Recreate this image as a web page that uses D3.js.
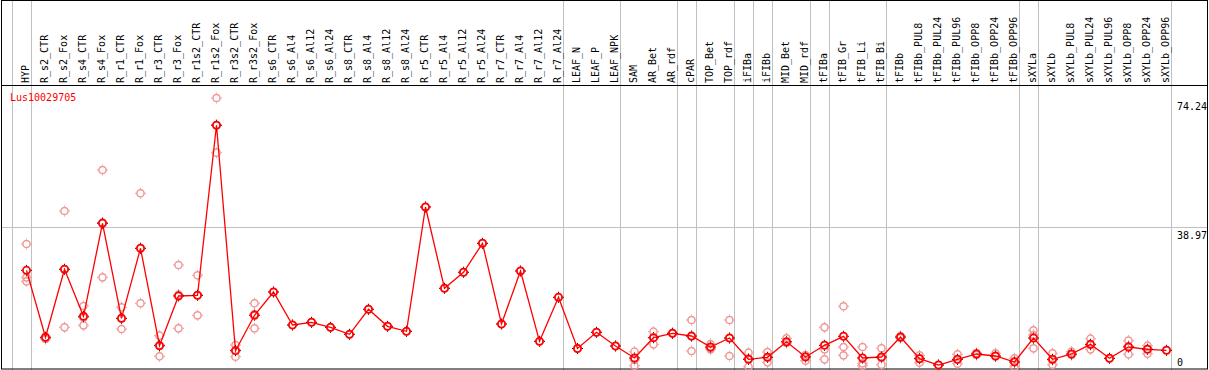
<!DOCTYPE html>
<html>
<head>
    <title>Lus10029705 expression</title>
    <script src="https://d3js.org/d3.v7.min.js"></script>
    <style>
        body { margin: 0; background: #fff; }
        text { font-family: 'DejaVu Sans Mono', monospace; font-size: 10px; }
    </style>
</head>
<body>
    <svg id="chart" width="1209" height="370"></svg>

    <script>
        var geneName = "Lus10029705";

        var categories = ["HYP","R_s2_CTR","R_s2_Fox","R_s4_CTR","R_s4_Fox","R_r1_CTR","R_r1_Fox",
            "R_r3_CTR","R_r3_Fox","R_r1s2_CTR","R_r1s2_Fox","R_r3s2_CTR","R_r3s2_Fox","R_s6_CTR",
            "R_s6_Al4","R_s6_Al12","R_s6_Al24","R_s8_CTR","R_s8_Al4","R_s8_Al12","R_s8_Al24",
            "R_r5_CTR","R_r5_Al4","R_r5_Al12","R_r5_Al24","R_r7_CTR","R_r7_Al4","R_r7_Al12","R_r7_Al24",
            "LEAF_N","LEAF_P","LEAF_NPK","SAM","AR_Bet","AR_rdf","cPAR","TOP_Bet","TOP_rdf",
            "iFIBa","iFIBb","MID_Bet","MID_rdf","tFIBa","tFIB_Gr","tFIB_Li","tFIB_Bi",
            "tFIBb","tFIBb_PUL8","tFIBb_PUL24","tFIBb_PUL96","tFIBb_OPP8","tFIBb_OPP24","tFIBb_OPP96",
            "sXYLa","sXYLb","sXYLb_PUL8","sXYLb_PUL24","sXYLb_PUL96","sXYLb_OPP8","sXYLb_OPP24","sXYLb_OPP96"];

        // mean per sample (red line)
        var meanValues = [27.21,8.93,27.49,14.66,40.04,14.11,33.22,
            6.63,20.20,20.39,66.79,5.27,14.93,21.29,
            12.28,13.02,11.65,9.74,16.57,11.93,10.56,
            44.49,22.30,26.67,34.58,12.56,27.02,7.83,19.84,
            5.87,10.29,6.55,3.28,8.82,10.02,9.28,6.28,8.73,
            2.92,3.47,7.72,3.55,6.74,9.20,3.28,3.55,
            9.01,3.08,1.36,2.92,4.37,3.82,2.18,
            8.73,2.92,4.37,7.01,3.19,6.28,5.65,5.38];

        // individual replicates (pink circles)
        var replicateValues = [
            [34.39,25.30,24.21],[8.93,8.65,8.46],[43.40,27.49,11.65],[17.47,14.30,12.20],
            [54.59,40.23,25.30],[17.11,14.00,11.19],[48.23,33.22,18.21],
            [9.36,6.82,3.74],[28.66,20.55,11.38],[25.85,20.39,14.93],[74.24,66.87,59.31],
            [6.82,5.46,3.63],[18.21,15.28,11.38],[21.29],
            [12.28],[13.02],[11.65],[9.74],[16.57],[11.93],[10.56],
            [44.49],[22.30],[26.67],[34.58],[12.56],[27.02],[7.83],[19.84],
            [5.87],[10.29],[6.55],[4.99,2.73,1.17],[10.45,8.82,7.01],[10.10,9.93],
            [13.65,9.14,5.19],[7.10,6.00,5.65],[13.65,8.73,3.82],
            [4.72,3.14,0.90],[4.91,3.41,2.10],[8.65,7.37],[4.09,3.82,2.54],
            [11.65,5.65,2.92],[17.39,6.28,4.01],[6.28,1.83,1.17],[5.92,3.28,1.45],
            [9.28,8.73],[4.01,3.28,1.99],[1.36],[4.29,2.87,1.72],[4.64,4.09],[4.56,3.68],
            [3.19,2.46,0.90],
            [10.84,9.55,5.92],[4.56,2.73,1.45],[4.99,4.09],[8.54,6.82,5.65],[3.19],
            [8.00,6.55,4.29],[6.63,5.73,4.45],[5.38]];

        // last sample of each tissue group (gray separators)
        var groupEnds = ["HYP","R_r7_Al24","LEAF_NPK","AR_rdf","cPAR","TOP_rdf","iFIBa","iFIBb",
            "MID_rdf","tFIBa","tFIB_Bi","tFIBb_OPP96","sXYLa","sXYLb_OPP96"];

        var tickValues = [74.24, 38.97, 0];
        var tickLabels = ["74.24", "38.97", "0"];

        var W = 1209, H = 370;
        var headerBottom = 85;
        var svg = d3.select("#chart");

        var x = d3.scaleBand().domain(categories).range([17, 1176]).padding(0);
        var cx = function(c) { return x(c) + x.bandwidth() / 2; };
        var y = d3.scaleLinear().domain([0, 74.24]).range([370, 98]);

        // gray separators
        var sepX = [cx(categories[0]) - x.bandwidth() + 4.5].concat(groupEnds.map(function(c) { return cx(c) + 4.5; }));
        svg.selectAll(".sep").data(sepX).enter().append("line")
            .attr("x1", function(d) { return Math.round(d) + 0.5; })
            .attr("x2", function(d) { return Math.round(d) + 0.5; })
            .attr("y1", 0).attr("y2", H)
            .attr("stroke", "#c0c0c0").attr("stroke-width", 1);

        // horizontal grid line at middle tick
        svg.append("line")
            .attr("x1", 2).attr("x2", 1207)
            .attr("y1", Math.round(y(38.97)) + 0.5).attr("y2", Math.round(y(38.97)) + 0.5)
            .attr("stroke", "#c0c0c0");

        // frame
        svg.append("rect").attr("x", 1.5).attr("y", 0.5).attr("width", 1206).attr("height", 368.5)
            .attr("fill", "none").attr("stroke", "#000").attr("stroke-width", 1);
        svg.append("line").attr("x1", 2).attr("x2", 1207).attr("y1", headerBottom + 0.5).attr("y2", headerBottom + 0.5)
            .attr("stroke", "#000").attr("stroke-width", 1.2);

        // sample labels (vertical)
        svg.selectAll(".lbl").data(categories).enter().append("text")
            .attr("transform", function(d) { return "translate(" + (cx(d) + 2.5) + "," + 83 + ") rotate(-90)"; })
            .attr("text-anchor", "start")
            .attr("fill", "#000")
            .text(function(d) { return d; });

        // y labels on right
        svg.selectAll(".ytick").data(tickValues).enter().append("text")
            .attr("x", 1177)
            .attr("y", function(d) { return Math.min(y(d) + 12, 365.5); })
            .attr("fill", "#000")
            .text(function(d, i) { return tickLabels[i]; });

        svg.append("text").attr("x", 10).attr("y", 101).attr("fill", "#ff0000").text(geneName);

        function marker(g, color, sw, tickColor) {
            g.append("circle").attr("r", 3.6).attr("fill", "none").attr("stroke", color).attr("stroke-width", sw);
            var t = [[0, -4.4, 0, -5.5], [0, 4.4, 0, 5.5], [-4.4, 0, -5.5, 0], [4.4, 0, 5.5, 0]];
            t.forEach(function(s) {
                g.append("line").attr("x1", s[0]).attr("y1", s[1]).attr("x2", s[2]).attr("y2", s[3])
                    .attr("stroke", tickColor).attr("stroke-width", 1);
            });
        }

        // replicates
        var reps = [];
        categories.forEach(function(c, i) {
            replicateValues[i].forEach(function(v) { reps.push({ c: c, v: v }); });
        });
        svg.selectAll(".rep").data(reps).enter().append("g")
            .attr("transform", function(d) { return "translate(" + cx(d.c) + "," + y(d.v) + ")"; })
            .each(function() { marker(d3.select(this), "#f09696", 1.5, "#f09696"); });

        // mean line
        var meanData = categories.map(function(c, i) { return { c: c, v: meanValues[i] }; });
        svg.append("path").datum(meanData)
            .attr("fill", "none").attr("stroke", "#ff0000").attr("stroke-width", 1.3)
            .attr("d", d3.line().x(function(d) { return cx(d.c); }).y(function(d) { return y(d.v); }));

        svg.selectAll(".mean").data(meanData).enter().append("g")
            .attr("transform", function(d) { return "translate(" + cx(d.c) + "," + y(d.v) + ")"; })
            .each(function() { marker(d3.select(this), "#ff0000", 1.8, "#600000"); });
    </script>
</body>
</html>
